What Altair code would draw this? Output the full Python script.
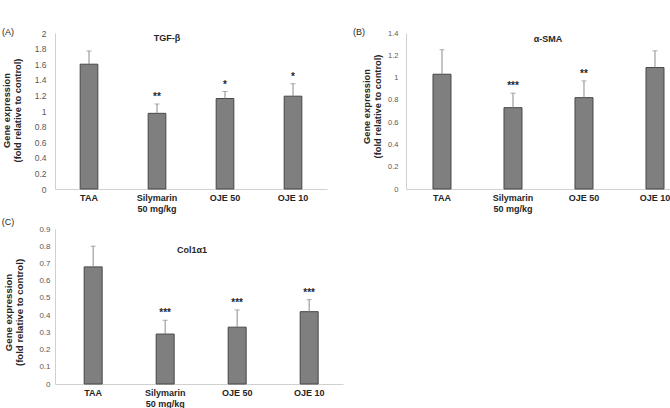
import altair as alt
import pandas as pd

categories = ["TAA", "Silymarin|50 mg/kg", "OJE 50", "OJE 10"]

tgf_values = [1.60, 0.97, 1.16, 1.19]
tgf_errors = [1.77, 1.09, 1.25, 1.35]
tgf_stars = ["", "**", "*", "*"]

sma_values = [1.03, 0.73, 0.82, 1.09]
sma_errors = [1.25, 0.86, 0.97, 1.24]
sma_stars = ["", "***", "**", ""]

col_values = [0.68, 0.29, 0.33, 0.42]
col_errors = [0.80, 0.37, 0.43, 0.49]
col_stars = ["", "***", "***", "***"]

tgf_ticks = [0, 0.2, 0.4, 0.6, 0.8, 1, 1.2, 1.4, 1.6, 1.8, 2]
sma_ticks = [0, 0.2, 0.4, 0.6, 0.8, 1, 1.2, 1.4]
col_ticks = [0, 0.1, 0.2, 0.3, 0.4, 0.5, 0.6, 0.7, 0.8, 0.9]

panel_titles = ["TGF-β", "α-SMA", "Col1α1"]
panel_tags = ["(A)", "(B)", "(C)"]
y_title = ["Gene expression", "(fold relative to control)"]

FONT = "Liberation Sans"
BAR_FILL = "#7f7f7f"
BAR_STROKE = "#474747"
ERR_COLOR = "#8a8a8a"
AXIS_LINE = "#d0d0d0"
TEXT_DARK = "#262626"


def panel(values, errors, stars, ticks, title, tag, width, height, ymax,
          pi, po, align, tick_fs, label_pad, title_fs, title_x, title_y,
          head_x, head_y, tag_y):
    df = pd.DataFrame({"cat": categories, "val": values, "err": errors, "star": stars})
    x = alt.X(
        "cat:N", sort=categories,
        scale=alt.Scale(paddingInner=pi, paddingOuter=po, align=align),
        axis=alt.Axis(
            title=None, labelAngle=0, labelFont=FONT, labelFontWeight="bold",
            labelFontSize=9, labelColor=TEXT_DARK, ticks=False, tickSize=0,
            domainColor=AXIS_LINE, domainWidth=1, labelPadding=4,
            labelExpr="split(datum.label, '|')", labelLineHeight=11,
            labelOverlap=False,
        ),
    )
    y = alt.Y(
        "val:Q",
        scale=alt.Scale(domain=[0, ymax], nice=False, zero=True),
        axis=alt.Axis(
            values=ticks, tickCount=len(ticks) + 2, format="~g", grid=False,
            ticks=False, tickSize=0,
            domainColor=AXIS_LINE, domainWidth=1, labelColor="#595959",
            labelFont=FONT, labelFontSize=tick_fs, labelPadding=label_pad,
            labelOverlap=False,
            title=y_title, titleFont=FONT, titleFontSize=title_fs,
            titleFontWeight="bold", titleColor=TEXT_DARK, titleAngle=270,
            titleX=title_x, titleY=title_y, titleBaseline="bottom",
            titleAlign="center", titleLineHeight=10.5,
        ),
    )
    base = alt.Chart(df)
    bars = base.mark_bar(fill=BAR_FILL, stroke=BAR_STROKE, strokeWidth=1).encode(x=x, y=y)
    rule = base.mark_rule(color=ERR_COLOR, strokeWidth=1).encode(
        x=alt.X("cat:N", sort=categories), y="val:Q", y2="err:Q")
    cap = base.mark_tick(color=ERR_COLOR, size=5, thickness=1, orient="horizontal").encode(
        x=alt.X("cat:N", sort=categories), y="err:Q")
    star = base.mark_text(font=FONT, fontSize=10, fontWeight="bold", color=TEXT_DARK,
                          baseline="alphabetic", dy=-4).encode(
        x=alt.X("cat:N", sort=categories), y="err:Q", text="star:N")
    head = alt.Chart(pd.DataFrame({"t": [title]})).mark_text(
        font=FONT, fontSize=9, fontWeight="bold", color=TEXT_DARK,
        align="center", baseline="middle").encode(
        x=alt.value(head_x), y=alt.value(head_y), text="t:N")
    lab = alt.Chart(pd.DataFrame({"t": [tag]})).mark_text(
        font=FONT, fontSize=9, color=TEXT_DARK, align="center",
        baseline="middle").encode(
        x=alt.value(-47), y=alt.value(tag_y), text="t:N")
    return alt.layer(bars, rule, cap, star, head, lab).properties(width=width, height=height)


pa = panel(tgf_values, tgf_errors, tgf_stars, tgf_ticks, panel_titles[0], panel_tags[0],
           272, 156, 2, 0.74, 0.37, 0.5, 8.5, 9, 9.3, -43.5, 77, 112, 5, -1)
pb = panel(sma_values, sma_errors, sma_stars, sma_ticks, panel_titles[1], panel_tags[1],
           264, 156, 1.4, 0.7465, 0.2324, 0.818, 7.5, 8, 9.3, -34.5, 73, 142, 6, -1)
pc = panel(col_values, col_errors, col_stars, col_ticks, panel_titles[2], panel_tags[2],
           288, 155, 0.9, 0.75, 0.375, 0.54, 8, 5, 9.6, -41.5, 83, 137, 21, -7)

chart = alt.concat(pa, pb, pc, columns=2, spacing={"row": 40, "column": 63},
                   bounds="flush").properties(
    autosize=alt.AutoSizeParams(type="none"),
    padding={"left": 55, "top": 33, "right": 0, "bottom": 24},
    background="white",
).add_params(
    alt.param(name="width", value=615),
    alt.param(name="height", value=351),
).configure_view(stroke=None)

chart.save("out.html", embed_options={"renderer": "svg", "actions": False})
